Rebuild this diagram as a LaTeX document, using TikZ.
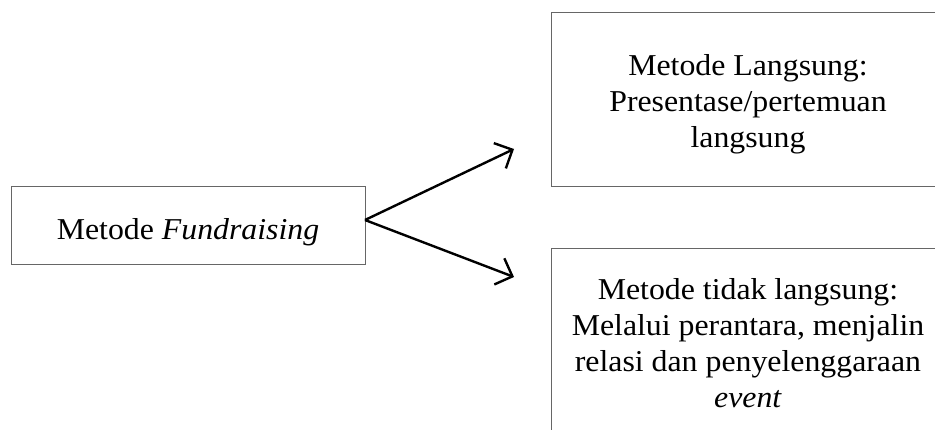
\documentclass[tikz,border=0pt]{standalone}
\usepackage{fontspec}
\setmainfont[FakeStretch=1.05]{Liberation Serif}
\usetikzlibrary{arrows.meta}
\tikzset{
  boxnode/.style={draw=black!60, line width=1pt, inner sep=0pt, outer sep=0pt},
  txt/.style={inner sep=0pt, align=center, font=\fontsize{30.3}{36}\selectfont},
  conn/.style={line width=2.4pt, -{Straight Barb[length=14pt,width=28pt,line width=2.4pt]}}
}
\begin{document}
\begin{tikzpicture}[x=1pt,y=-1pt]
\useasboundingbox (0,0) rectangle (935,430);
\clip (0,0) rectangle (935,430);
\node[boxnode, minimum width=354, minimum height=78] (L) at (188,226) {};
\node[boxnode, minimum width=394, minimum height=174] (T) at (748,100) {};
\node[boxnode, minimum width=394, minimum height=196] (B) at (748,347) {};
\node[txt] (Lt) at (188,232) {Metode \textit{Fundraising}};
\node[txt] (Tt) at (748,104) {Metode Langsung:\\Presentase/pertemuan\\langsung};
\node[txt] (Bt) at (748,343) {Metode tidak langsung:\\Melalui perantara, menjalin\\relasi dan penyelenggaraan\\\textit{event}};
\coordinate (s) at (365,220);
\coordinate (e1) at (514,149);
\coordinate (e2) at (514,277);
\draw[conn] (s) -- (e1);
\draw[conn] (s) -- (e2);
\end{tikzpicture}
\end{document}
